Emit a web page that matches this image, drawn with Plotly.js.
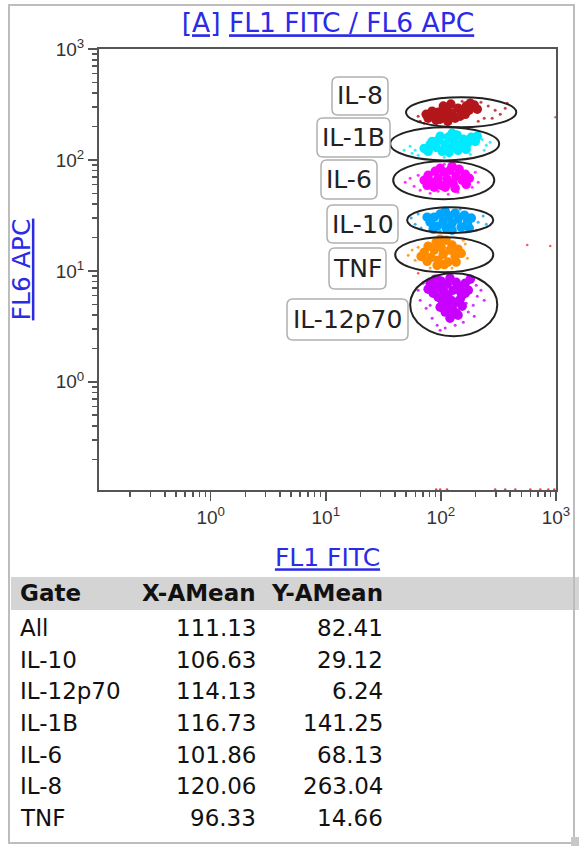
<!DOCTYPE html>
<html><head><meta charset="utf-8">
<script src="https://cdn.plot.ly/plotly-3.0.1.min.js"></script>
<style>html,body{margin:0;padding:0;background:#fff;}#chart{width:579px;height:846px;}</style>
</head><body><div id="chart"></div>
<script>
// ---------- data ----------
const il8CoreX = [77.5, 87.4, 98.6, 94.7, 109, 113, 125, 133, 141, 153, 166, 176, 195, 207, 91, 115, 105, 122, 147, 74.5, 84, 163, 180, 100.6];
const il8CoreY = [238, 253, 233, 269, 248, 281, 263, 238, 293, 269, 306, 281, 312, 287, 228, 223, 306, 319, 248, 258, 275, 258, 325, 253];
const il8OutX = [362, 328, 296, 258, 238, 223, 211, 66.1, 63.5, 71.5, 377, 279, 153];
const il8OutY = [293, 258, 281, 306, 238, 331, 223, 223, 248, 214, 325, 238, 338];

const il1bCoreX = [71.6, 80.7, 77.5, 91, 94.7, 102.6, 109, 116, 122.4, 130, 138.5, 147, 156.6, 170, 183.6, 199, 117.6, 141, 166, 98.6, 84, 125, 207];
const il1bCoreY = [127, 138, 119.5, 129.7, 150, 119.5, 138, 160.3, 127, 147, 167, 136, 153.8, 141, 160, 147, 117, 122, 124.6, 163.5, 147, 174, 163.6];
const il1bOutX = [59.8, 54.1, 63.5, 56.3, 228, 248, 268, 238, 107, 135.7, 180, 48];
const il1bOutY = [122, 133, 110, 115, 153, 136, 144, 122, 105.6, 181, 112.6, 122];

const il6CoreX = [71.6, 77.5, 84, 89.2, 94.7, 100.6, 107, 113.5, 120, 127.5, 135.7, 144, 153, 163, 176.5, 98.6, 109, 87.4, 133, 125, 166, 76];
const il6CoreY = [65.6, 72.8, 63.0, 79, 68.4, 59.1, 77.5, 67, 80.7, 61.7, 71.3, 82.4, 65.6, 74.3, 68.4, 84.1, 56.8, 56.8, 55.6, 87.8, 60.3, 59.1];
const il6OutX = [49, 54.1, 58.6, 63.5, 80.7, 94.7, 116, 141, 199, 211, 187, 107, 66.1];
const il6OutY = [63, 68.4, 57.9, 72.8, 50.1, 52.2, 49.1, 51.2, 77.5, 63, 56.8, 91.5, 53.3];

const il10CoreX = [80.7, 87.4, 92.8, 98.6, 104.7, 111, 117.6, 125, 133, 141, 150, 160, 170, 183.6, 85.7, 125, 109, 76, 176.5];
const il10CoreY = [27.5, 30.5, 25.3, 32.5, 28.1, 24.3, 31.2, 26.9, 33.1, 29.3, 24.8, 31.8, 27.5, 29.9, 23.8, 23.3, 34.5, 30.5, 24.3];
const il10OutX = [55.2, 59.8, 63.5, 67.4, 211, 233, 248, 203, 98.6, 147];
const il10OutY = [29.9, 26.3, 32.5, 24.3, 27.5, 31.2, 26.3, 23.3, 22.8, 35.9];

const tnfCoreX = [71.6, 77.5, 82.3, 87.4, 91, 94.7, 100.6, 104.7, 111, 115, 120, 125, 133, 141, 150, 76, 92.8, 98.6, 107, 135.7, 67.4];
const tnfCoreY = [14.7, 16.7, 13.2, 15.4, 18.2, 12.5, 16.3, 14.1, 18.9, 12.0, 15.4, 17.1, 13.5, 15.7, 14.4, 12.2, 11.2, 19.3, 11.4, 12.0, 13.5];
const tnfOutX = [52, 56.3, 59.8, 63.5, 163, 170, 156.6, 80.7, 125];
const tnfOutY = [13.8, 15.4, 12.5, 16.3, 17.5, 13.0, 18.9, 10.6, 10.6];

const il12CoreX = [80.7, 89.2, 94.7, 100.6, 107, 113.5, 120, 127.5, 135.7, 144, 153, 163, 173, 85.7, 77.5, 102.6, 115, 127.5, 120, 135.7, 109, 141, 94.7, 147, 180,
                   84, 107, 147, 163, 115, 122.4, 153, 98.6, 135.7, 94.7];
const il12CoreY = [7.74, 8.41, 6.98, 8.07, 6.42, 7.59, 8.59, 6.70, 7.9, 7.13, 6.04, 7.74, 6.70, 6.29, 6.84, 5.44, 4.91, 4.43, 3.75, 5.22, 4.25, 3.99, 5.79, 5.55, 8.41,
                   7.13, 7.59, 6.56, 6.29, 5.92, 5.44, 4.81, 4.71, 4.16, 8.24];
const il12OutX = [63.5, 66.1, 70.1, 74.5, 84, 92.8, 109, 133, 156.6, 173, 191, 207, 223, 238, 203, 98.6, 80.7, 166, 195];
const il12OutY = [6.70, 5.44, 7.74, 4.61, 3.75, 3.24, 3.05, 3.24, 3.45, 4.25, 4.91, 5.92, 6.70, 5.44, 7.43, 2.92, 4.91, 5.11, 3.91];

const otherX = [563, 891, 63.5, 990];
const otherY = [17.1, 16.75, 9.5, 243];
const lowX = [91, 98.6, 113, 296, 362, 443, 598, 731, 857, 966];
const lowY = [0.107, 0.107, 0.107, 0.107, 0.107, 0.107, 0.107, 0.107, 0.107, 0.107];

// gates (ellipse bounding boxes, data units)
const gateNames = ['IL-8', 'IL-1B', 'IL-6', 'IL-10', 'TNF', 'IL-12p70'];
const gateX0 = [49.8, 36.3, 38.5, 50.9, 40.1, 54.1];
const gateX1 = [452, 321, 291, 285, 285, 309];
const gateY0 = [197, 99, 44.3, 21.9, 9.73, 2.58];
const gateY1 = [367, 197, 97.3, 37.5, 20.1, 9.53];

// statistics table
const tableGate = ['All', 'IL-10', 'IL-12p70', 'IL-1B', 'IL-6', 'IL-8', 'TNF'];
const tableXMean = ['111.13', '106.63', '114.13', '116.73', '101.86', '120.06', '96.33'];
const tableYMean = ['82.41', '29.12', '6.24', '141.25', '68.13', '263.04', '14.66'];

const tickVals = [1, 10, 100, 1000];
const tickText = ['10<sup>0</sup>', '10<sup>1</sup>', '10<sup>2</sup>', '10<sup>3</sup>'];

// ---------- layout helpers ----------
const W = 579, H = 846, L = 99, R = 556, T = 49, B = 490;
const px = v => (v - L) / (R - L);
const py = v => (B - v) / (B - T);
const BLUE = '#2b2be6';
const FONT = 'DejaVu Sans';

const minorVals = [];
[0.1, 1, 10, 100].forEach(d => { for (let k = 2; k <= 9; k++) minorVals.push(d * k); });

function tr(x, y, color, size, opacity, extra) {
  return Object.assign({type: 'scatter', mode: 'markers', x: x, y: y, hoverinfo: 'skip',
    marker: {color: color, size: size, opacity: opacity, line: {width: 0}}}, extra || {});
}
const COL = {il8: '#b3161b', il1b: '#00eaff', il6: '#ff00ff', il10: '#00a5ff', tnf: '#ff8c00', il12: '#c800ff'};
const CORE = 9.5, OUT = 3;
const data = [
  tr(il8OutX, il8OutY, COL.il8, OUT, 0.8), tr(il8CoreX, il8CoreY, COL.il8, CORE, 1),
  tr(il1bOutX, il1bOutY, COL.il1b, OUT, 0.8), tr(il1bCoreX, il1bCoreY, COL.il1b, CORE, 1),
  tr(il6OutX, il6OutY, COL.il6, OUT, 0.8), tr(il6CoreX, il6CoreY, COL.il6, CORE, 1),
  tr(il10OutX, il10OutY, COL.il10, OUT, 0.8), tr(il10CoreX, il10CoreY, COL.il10, CORE, 1),
  tr(tnfOutX, tnfOutY, COL.tnf, OUT, 0.8), tr(tnfCoreX, tnfCoreY, COL.tnf, CORE, 1),
  tr(il12OutX, il12OutY, COL.il12, OUT, 0.8), tr(il12CoreX, il12CoreY, COL.il12, CORE, 1),
  tr(otherX, otherY, '#ff2a2a', 2.5, 0.8),
  tr(lowX, lowY, '#ff2a2a', 2.5, 0.9, {cliponaxis: false})
];

const shapes = [];
// gate ellipses
for (let i = 0; i < gateNames.length; i++) {
  shapes.push({type: 'circle', xref: 'x', yref: 'y', x0: gateX0[i], x1: gateX1[i], y0: gateY0[i], y1: gateY1[i],
    line: {color: '#222', width: 2}, layer: 'above'});
}
function roundRect(x0, y0, x1, y1, r) {
  const rx = r / (R - L), ry = r / (B - T);
  const a = px(x0), b = px(x1), c = py(y0), d = py(y1); // c top, d bottom
  return `M ${a + rx},${c} L ${b - rx},${c} Q ${b},${c} ${b},${c - ry} L ${b},${d + ry} Q ${b},${d} ${b - rx},${d} ` +
         `L ${a + rx},${d} Q ${a},${d} ${a},${d + ry} L ${a},${c - ry} Q ${a},${c} ${a + rx},${c} Z`;
}
const labelBoxes = [[332, 77, 388, 115], [317, 118, 390, 157], [321, 160, 377, 199], [327, 205, 398, 243], [329, 248, 386, 289], [287, 299, 408, 340]];
const annotations = [];
labelBoxes.forEach((bx, i) => {
  shapes.push({type: 'path', xref: 'paper', yref: 'paper', path: roundRect(bx[0], bx[1], bx[2], bx[3], 6),
    line: {color: '#b0b0b0', width: 1.5}, fillcolor: '#ffffff', layer: 'above'});
  annotations.push({xref: 'paper', yref: 'paper', x: px((bx[0] + bx[2]) / 2), y: py((bx[1] + bx[3]) / 2),
    text: gateNames[i], showarrow: false, xanchor: 'center', yanchor: 'middle',
    font: {family: FONT, size: 25, color: '#222'}});
});
// table header band
shapes.push({type: 'rect', xref: 'paper', yref: 'paper', x0: px(11), x1: px(579), y0: py(577), y1: py(610),
  line: {width: 0}, fillcolor: '#d4d4d4', layer: 'below'});
// outer frame
shapes.push({type: 'rect', xref: 'paper', yref: 'paper', x0: px(9), x1: px(574), y0: py(5), y1: py(843),
  line: {color: '#bdbdbd', width: 2}, fillcolor: 'rgba(0,0,0,0)', layer: 'below'});
shapes.push({type: 'rect', xref: 'paper', yref: 'paper', x0: px(571), x1: px(579), y0: py(837), y1: py(846),
  line: {width: 0}, fillcolor: '#c8c8c8', layer: 'below'});

// table text
const TF = {family: FONT, size: 23, color: '#111'};
const hdrY = 593, row0 = 628, rowH = 31.67;
annotations.push({xref: 'paper', yref: 'paper', x: px(18), y: py(hdrY), text: '<b>Gate</b>', showarrow: false, xanchor: 'left', yanchor: 'middle', font: TF});
annotations.push({xref: 'paper', yref: 'paper', x: px(258), y: py(hdrY), text: '<b>X-AMean</b>', showarrow: false, xanchor: 'right', yanchor: 'middle', font: TF});
annotations.push({xref: 'paper', yref: 'paper', x: px(385), y: py(hdrY), text: '<b>Y-AMean</b>', showarrow: false, xanchor: 'right', yanchor: 'middle', font: TF});
tableGate.forEach((g, i) => {
  const yy = py(row0 + i * rowH);
  annotations.push({xref: 'paper', yref: 'paper', x: px(18), y: yy, text: g, showarrow: false, xanchor: 'left', yanchor: 'middle', font: TF});
  annotations.push({xref: 'paper', yref: 'paper', x: px(258), y: yy, text: tableXMean[i], showarrow: false, xanchor: 'right', yanchor: 'middle', font: TF});
  annotations.push({xref: 'paper', yref: 'paper', x: px(385), y: yy, text: tableYMean[i], showarrow: false, xanchor: 'right', yanchor: 'middle', font: TF});
});

function axis(range, titleText, standoff) {
  return {type: 'log', range: range, tickmode: 'array', tickvals: tickVals, ticktext: tickText,
    ticks: 'outside', ticklen: 9, tickwidth: 1.5, tickcolor: '#555',
    showline: true, linecolor: '#555', linewidth: 2, mirror: true, showgrid: false, zeroline: false,
    tickfont: {family: 'Liberation Sans', size: 19, color: '#333'},
    minor: {tickmode: 'array', tickvals: minorVals, ticks: 'outside', ticklen: 5, tickwidth: 1.5, tickcolor: '#555', showgrid: false},
    title: {text: titleText, font: {family: FONT, size: 25, color: BLUE}, standoff: standoff},
    automargin: false, fixedrange: true};
}

const layout = {
  width: W, height: H,
  margin: {l: L, r: W - R, t: T, b: H - B, pad: 0},
  paper_bgcolor: '#ffffff', plot_bgcolor: '#ffffff', showlegend: false,
  font: {family: FONT, color: '#222'},
  title: {text: '<u>[A]</u> <u>FL1 FITC / FL6 APC</u>', font: {family: FONT, size: 26.5, color: BLUE},
    xref: 'container', yref: 'container', x: 328 / W, xanchor: 'center', y: 1 - 23 / H, yanchor: 'middle'},
  xaxis: axis([-0.97, 3], '<u>FL1 FITC</u>', 22),
  yaxis: axis([-0.975, 3], '<u>FL6 APC</u>', 18),
  shapes: shapes, annotations: annotations
};

Plotly.newPlot('chart', data, layout, {displayModeBar: false, staticPlot: true});
</script></body></html>
